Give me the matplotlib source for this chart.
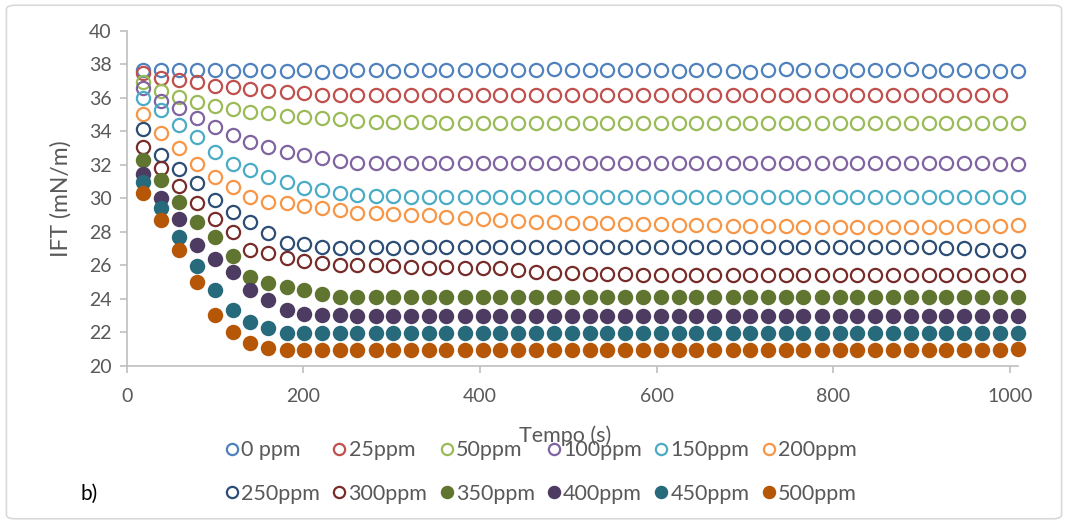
import matplotlib
matplotlib.use("Agg")
import matplotlib.pyplot as plt
from matplotlib.patches import FancyBboxPatch

plt.rcParams["font.family"] = ["Lato", "DejaVu Sans"]

# measurement times (s)
tempo = [19, 39, 59, 80, 100, 120, 140, 160, 181, 201,
         221, 241, 261, 282, 302, 322, 342, 362, 383, 403,
         423, 443, 463, 484, 504, 524, 544, 564, 585, 605,
         625, 645, 665, 686, 706, 726, 746, 766, 787, 807,
         827, 847, 867, 888, 908, 928, 948, 968, 989, 1009]

ift_0 = [37.65, 37.66, 37.66, 37.65, 37.66, 37.62, 37.68, 37.58, 37.62, 37.66,
         37.56, 37.60, 37.66, 37.68, 37.62, 37.66, 37.66, 37.66, 37.64, 37.66,
         37.66, 37.68, 37.66, 37.70, 37.66, 37.66, 37.64, 37.66, 37.64, 37.66,
         37.62, 37.66, 37.64, 37.60, 37.56, 37.64, 37.70, 37.64, 37.64, 37.62,
         37.64, 37.64, 37.66, 37.70, 37.62, 37.64, 37.66, 37.62, 37.60, 37.62]
ift_25 = [37.46, 37.20, 37.06, 36.96, 36.72, 36.66, 36.50, 36.40, 36.36, 36.26,
          36.18, 36.16, 36.16, 36.16, 36.18, 36.16, 36.16, 36.18, 36.18, 36.16,
          36.16, 36.18, 36.18, 36.16, 36.16, 36.16, 36.18, 36.16, 36.16, 36.18,
          36.16, 36.18, 36.18, 36.16, 36.18, 36.16, 36.18, 36.18, 36.16, 36.16,
          36.16, 36.18, 36.16, 36.16, 36.16, 36.16, 36.18, 36.16, 36.16]
ift_50 = [36.96, 36.40, 36.02, 35.76, 35.50, 35.30, 35.16, 35.07, 34.93, 34.87,
          34.80, 34.70, 34.63, 34.57, 34.53, 34.52, 34.52, 34.50, 34.50, 34.50,
          34.50, 34.50, 34.50, 34.50, 34.50, 34.50, 34.50, 34.50, 34.50, 34.50,
          34.50, 34.50, 34.50, 34.50, 34.50, 34.50, 34.50, 34.50, 34.50, 34.50,
          34.50, 34.50, 34.50, 34.50, 34.50, 34.50, 34.50, 34.50, 34.50, 34.48]
ift_100 = [36.60, 35.82, 35.37, 34.80, 34.27, 33.80, 33.37, 33.04, 32.78, 32.58,
           32.38, 32.22, 32.12, 32.08, 32.08, 32.08, 32.08, 32.08, 32.08, 32.08,
           32.08, 32.08, 32.08, 32.08, 32.08, 32.08, 32.08, 32.08, 32.08, 32.08,
           32.08, 32.08, 32.08, 32.08, 32.08, 32.08, 32.08, 32.08, 32.08, 32.08,
           32.08, 32.08, 32.08, 32.08, 32.08, 32.08, 32.08, 32.08, 32.06, 32.06]
ift_150 = [36.00, 35.27, 34.37, 33.64, 32.74, 32.04, 31.68, 31.28, 30.98, 30.63,
           30.49, 30.29, 30.19, 30.13, 30.12, 30.10, 30.10, 30.10, 30.10, 30.10,
           30.10, 30.10, 30.10, 30.10, 30.10, 30.10, 30.10, 30.10, 30.10, 30.10,
           30.10, 30.10, 30.10, 30.10, 30.10, 30.10, 30.10, 30.10, 30.10, 30.10,
           30.10, 30.10, 30.10, 30.10, 30.10, 30.10, 30.10, 30.10, 30.10, 30.06]
ift_200 = [35.03, 33.87, 33.01, 32.04, 31.28, 30.69, 30.09, 29.79, 29.70, 29.53,
           29.40, 29.30, 29.13, 29.13, 29.08, 29.00, 29.00, 28.90, 28.80, 28.74,
           28.70, 28.66, 28.60, 28.60, 28.54, 28.54, 28.50, 28.48, 28.46, 28.44,
           28.42, 28.40, 28.38, 28.36, 28.34, 28.32, 28.32, 28.30, 28.30, 28.30,
           28.30, 28.30, 28.30, 28.30, 28.30, 28.30, 28.32, 28.34, 28.36, 28.38]
ift_250 = [34.11, 32.58, 31.74, 30.89, 29.90, 29.20, 28.60, 27.94, 27.31, 27.25,
           27.10, 27.00, 27.10, 27.10, 27.05, 27.07, 27.07, 27.07, 27.07, 27.07,
           27.07, 27.07, 27.07, 27.07, 27.07, 27.07, 27.07, 27.07, 27.07, 27.07,
           27.07, 27.10, 27.10, 27.07, 27.07, 27.07, 27.07, 27.07, 27.07, 27.07,
           27.07, 27.07, 27.07, 27.07, 27.07, 27.05, 27.00, 26.90, 26.88, 26.85]
ift_300 = [33.08, 31.82, 30.75, 29.73, 28.76, 28.00, 26.91, 26.71, 26.41, 26.25,
           26.15, 26.01, 26.01, 26.01, 25.98, 25.91, 25.81, 25.91, 25.84, 25.84,
           25.84, 25.71, 25.61, 25.52, 25.52, 25.50, 25.48, 25.45, 25.44, 25.42,
           25.42, 25.42, 25.42, 25.42, 25.42, 25.42, 25.42, 25.42, 25.42, 25.42,
           25.42, 25.42, 25.42, 25.42, 25.42, 25.42, 25.42, 25.42, 25.42, 25.42]
ift_350 = [32.28, 31.09, 29.80, 28.60, 27.67, 26.55, 25.31, 24.92, 24.68, 24.52,
           24.26, 24.12, 24.12, 24.12, 24.08, 24.08, 24.08, 24.08, 24.08, 24.08,
           24.08, 24.08, 24.08, 24.08, 24.08, 24.08, 24.08, 24.08, 24.08, 24.08,
           24.08, 24.08, 24.08, 24.08, 24.08, 24.08, 24.08, 24.08, 24.08, 24.08,
           24.08, 24.08, 24.08, 24.08, 24.08, 24.08, 24.08, 24.08, 24.08, 24.08]
ift_400 = [31.44, 30.00, 28.75, 27.21, 26.35, 25.61, 24.52, 23.92, 23.33, 23.07,
           23.03, 23.00, 22.98, 22.97, 22.97, 22.97, 22.97, 22.97, 22.97, 22.97,
           22.97, 22.97, 22.97, 22.97, 22.97, 22.97, 22.97, 22.97, 22.97, 22.97,
           22.97, 22.97, 22.97, 22.97, 22.97, 22.97, 22.97, 22.97, 22.97, 22.97,
           22.97, 22.97, 22.97, 22.97, 22.97, 22.97, 22.97, 22.97, 22.97, 22.97]
ift_450 = [30.99, 29.40, 27.67, 25.95, 24.52, 23.33, 22.63, 22.23, 21.93, 21.93,
           21.93, 21.93, 21.93, 21.93, 21.93, 21.93, 21.93, 21.93, 21.93, 21.93,
           21.93, 21.93, 21.93, 21.93, 21.93, 21.93, 21.93, 21.93, 21.93, 21.93,
           21.93, 21.93, 21.93, 21.93, 21.93, 21.93, 21.93, 21.93, 21.93, 21.93,
           21.93, 21.93, 21.93, 21.93, 21.93, 21.93, 21.93, 21.93, 21.93, 21.93]
ift_500 = [30.29, 28.70, 26.91, 25.01, 23.03, 22.03, 21.34, 21.04, 20.94, 20.94,
           20.94, 20.94, 20.94, 20.94, 20.94, 20.94, 20.94, 20.94, 20.94, 20.94,
           20.94, 20.94, 20.94, 20.94, 20.94, 20.94, 20.94, 20.94, 20.94, 20.94,
           20.94, 20.94, 20.94, 20.94, 20.94, 20.94, 20.94, 20.94, 20.94, 20.94,
           20.94, 20.94, 20.94, 20.94, 20.94, 20.94, 20.94, 20.94, 20.96, 21.00]

labels = ["0 ppm", "25ppm", "50ppm", "100ppm", "150ppm", "200ppm",
          "250ppm", "300ppm", "350ppm", "400ppm", "450ppm", "500ppm"]
series = [ift_0, ift_25, ift_50, ift_100, ift_150, ift_200,
          ift_250, ift_300, ift_350, ift_400, ift_450, ift_500]
colors = ["#4F81BD", "#C0504D", "#9BBB59", "#8064A2", "#4BACC6", "#F79646",
          "#2C4D75", "#772C2A", "#5F7530", "#4D3B62", "#276A7C", "#B65708"]
filled = [False] * 8 + [True] * 4

TXT = "#595959"
AXC = "#BFBFBF"

fig = plt.figure(figsize=(10.68, 5.24), dpi=100)
ax = fig.add_axes([0.1186, 0.3021, 0.8346, 0.6393])

handles = []
for lab, ys, c, f in zip(labels, series, colors, filled):
    h, = ax.plot(tempo[:len(ys)], ys, ls="none", marker="o", ms=9.5,
                 mew=1.6, mec=c, mfc=c if f else "none", label=lab,
                 clip_on=False)
    handles.append(h)

ax.set_xlim(0, 1009)
ax.set_ylim(20, 40)
ax.set_xticks([0, 200, 400, 600, 800, 1000])
ax.set_yticks(range(20, 41, 2))
for s in ["top", "right"]:
    ax.spines[s].set_visible(False)
for s in ["left", "bottom"]:
    ax.spines[s].set_color(AXC)
    ax.spines[s].set_linewidth(1.2)
ax.tick_params(colors=AXC, labelcolor=TXT, labelsize=14, length=5, width=1.2)
ax.tick_params(axis="x", pad=11)
ax.tick_params(axis="y", pad=6)

ax.set_ylabel("IFT (mN/m)", color=TXT, fontsize=16.5, labelpad=12)
fig.text(0.529, 0.168, "Tempo (s)", color=TXT, fontsize=15.5,
         ha="center", va="center")

# legend laid out like Excel: two rows of six
order = [0, 6, 1, 7, 2, 8, 3, 9, 4, 10, 5, 11]
leg = fig.legend([handles[i] for i in order], [labels[i] for i in order],
                 ncol=6, loc="center", bbox_to_anchor=(0.507, 0.099),
                 frameon=False, fontsize=15.5, handlelength=0.55,
                 handletextpad=0.15, columnspacing=0.62, labelspacing=1.1,
                 markerscale=0.85)
for t in leg.get_texts():
    t.set_color(TXT)

fig.text(0.075, 0.058, "b)", fontsize=15, color="black",
         ha="left", va="center")

border = FancyBboxPatch((0.006, 0.01), 0.988, 0.98,
                        boxstyle="round,pad=0,rounding_size=0.008",
                        transform=fig.transFigure, fill=False,
                        edgecolor="#D9D9D9", linewidth=1.2)
fig.patches.append(border)

fig.savefig("out.png", dpi=100)
